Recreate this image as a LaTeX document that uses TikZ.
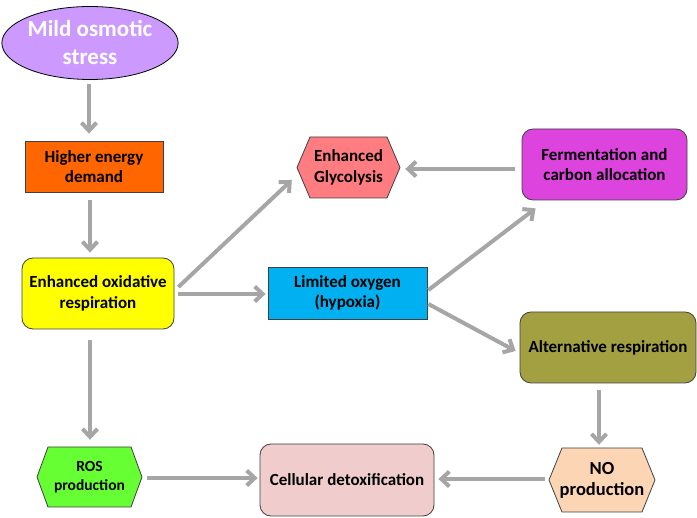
\documentclass[tikz,border=0pt]{standalone}
\usepackage{fontspec}
\setmainfont{Carlito}
\usetikzlibrary{arrows.meta,shapes.geometric}
\definecolor{lav}{HTML}{CC99FF}
\definecolor{orng}{HTML}{FF6600}
\definecolor{yel}{HTML}{FFFF00}
\definecolor{grn}{HTML}{66FF33}
\definecolor{pinkd}{HTML}{F0CCCC}
\definecolor{peach}{HTML}{FCD5B4}
\definecolor{olive}{HTML}{A3A041}
\definecolor{mag}{HTML}{DD44DD}
\definecolor{sky}{HTML}{00B0F0}
\definecolor{salmon}{HTML}{FF7C80}
\definecolor{arrgray}{HTML}{A6A6A6}
\definecolor{edge}{HTML}{404040}
\newcommand\hexshape[6]{%
  \fill[#6] ({#1-#3},#2) -- ({#1-#3+#5},{#2-#4}) -- ({#1+#3-#5},{#2-#4}) -- ({#1+#3},#2)
    -- ({#1+#3-#5},{#2+#4}) -- ({#1-#3+#5},{#2+#4}) -- cycle;
  \draw[draw=edge,line width=0.8pt] ({#1-#3},#2) -- ({#1-#3+#5},{#2-#4}) -- ({#1+#3-#5},{#2-#4}) -- ({#1+#3},#2)
    -- ({#1+#3-#5},{#2+#4}) -- ({#1-#3+#5},{#2+#4}) -- cycle;}
\begin{document}
\begin{tikzpicture}[x=1pt,y=-1pt,
  txt/.style={font=\bfseries\fontsize{17}{20.5}\selectfont, align=center, inner sep=0pt, text=black},
  box/.style={txt, draw=edge, line width=0.8pt},
  rbox/.style={box, rounded corners=11pt},
  hexnode/.style={txt},
  arr/.style={draw=arrgray, line width=4pt, -{Straight Barb[length=8pt,width=15pt]}}]
\useasboundingbox (0,0) rectangle (697,518);
% nodes
\node[ellipse, draw=black, line width=0.8pt, fill=lav, minimum width=174pt, minimum height=73pt, inner sep=0pt,
  font=\bfseries\fontsize{23}{28}\selectfont, text=white, align=center] (stress) at (90,43) {Mild osmotic\\stress};
\node[box, fill=orng, minimum width=138pt, minimum height=51pt] (demand) at (94,166.5) {Higher energy\\demand};
\node[rbox, fill=yel, minimum width=152pt, minimum height=71pt] (oxid) at (98,293.5) {Enhanced oxidative\\respiration};
\hexshape{89.5}{477}{52.5}{30}{11}{grn}
\node[hexnode, font=\bfseries\fontsize{15.5}{19}\selectfont, minimum width=105pt, minimum height=60pt] (ros) at (89.5,477) {ROS\\production};
\hexshape{348.5}{167.5}{51.5}{30.5}{13}{salmon}
\node[hexnode, minimum width=103pt, minimum height=61pt] (glyc) at (348.5,167.5) {Enhanced\\Glycolysis};
\node[box, fill=sky, minimum width=159pt, minimum height=52pt] (hypo) at (347.5,293) {Limited oxygen\\(hypoxia)};
\node[rbox, fill=mag, minimum width=165pt, minimum height=71pt] (ferm) at (604.5,164.5) {Fermentation and\\carbon allocation};
\node[rbox, fill=olive, minimum width=176pt, minimum height=71pt] (alt) at (608,347.5) {Alternative respiration};
\node[rbox, fill=pinkd, minimum width=174pt, minimum height=72pt] (detox) at (347,480) {Cellular detoxification};
\hexshape{602}{480}{53}{32}{13}{peach}
\node[hexnode, font=\bfseries\fontsize{18.5}{21}\selectfont, minimum width=106pt, minimum height=64pt] (no) at (602,480) {NO\\production};
% connectors
\draw[arr] ([shift={(-1,4.5)}]stress.south) -- ([shift={(-5,-7)}]demand.north);
\draw[arr] ([shift={(-4,8)}]demand.south) -- ([shift={(-8,-5)}]oxid.north);
\draw[arr] ([shift={(-8,11)}]oxid.south) -- ([shift={(0.5,-7)}]ros.north);
\draw[arr] ([shift={(5,1)}]ros.east) -- ([shift={(-2,-2)}]detox.west);
\draw[arr] ([shift={(-4,-1)}]no.west) -- ([shift={(4,-1)}]detox.east);
\draw[arr] ([shift={(-9,7)}]alt.south) -- ([shift={(-3,-3)}]no.north);
\draw[arr] ([shift={(4,0.5)}]oxid.east) -- ([shift={(-2,1)}]hypo.west);
\draw[arr] ([shift={(4,-6.5)}]oxid.east) -- ([shift={(-5,12.5)}]glyc.west);
\draw[arr] ([shift={(-7,4.5)}]ferm.west) -- ([shift={(5,1.5)}]glyc.east);
\draw[arr] ([shift={(1,-3)}]hypo.east) -- ([shift={(14,8)}]ferm.south west);
\draw[arr] ([shift={(1,11)}]hypo.east) -- ([shift={(-4,3.5)}]alt.west);
\end{tikzpicture}
\end{document}
